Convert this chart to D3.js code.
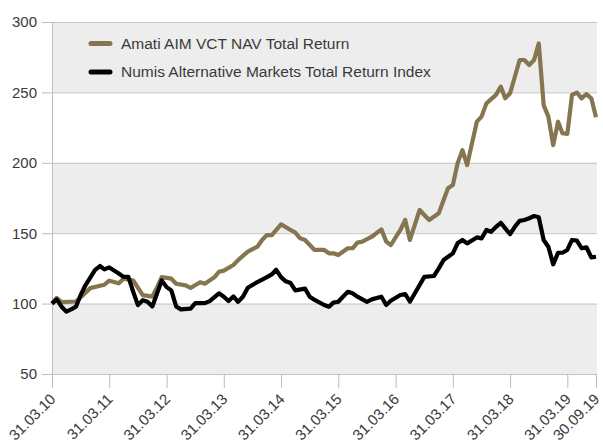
<!DOCTYPE html>
<html>
<head>
<meta charset="utf-8">
<style>
  body { margin: 0; background: #fff; }
  svg { display: block; font-family: Helvetica, Arial, "Liberation Sans", sans-serif; }
</style>
</head>
<body>
<svg></svg>
<script src="https://d3js.org/d3.v7.min.js"></script>
<script>

// months after March 2010 (month-end values)
var amatiMonths = [0,1,2,5,6,8,10,11,12,14,15,17,19,21,22,23,25,26,28,29,31,32,34,35,36,38,39,41,43,44,45,46,48,50,51,52,53,55,57,58,59,60,62,63,64,65,67,69,70,71,73,74,75,77,78,79,81,82,83,84,85,86,87,88,89,90,91,93,94,95,96,98,99,100,101,102,103,104,105,106,107,108,109,110,111,112,113,114];
var amatiValues = [100,104,101,101.5,104.5,111,112.7,113.4,116.3,114.4,117.7,116.4,106,105,111.7,118.8,117.7,114.1,112.9,111.2,115.2,114.1,118.8,122.6,123.4,127.4,130.9,136.9,140.4,145.2,148.7,148.7,156.3,152.3,150.4,146.4,145.2,138.1,138.1,135.7,135.7,134.5,139.3,139.3,143.3,144,147.5,152.7,144,141.6,152.3,159.4,145.2,166.5,162.9,159.4,164.1,173.6,181.9,184.2,199.6,209,198.4,213.8,229.2,232.8,242.2,248.2,254.1,245.8,249.4,273,273,269.5,273,284.8,241.1,232.8,212.6,229.2,221,220.5,248.2,249.9,245.8,248.7,245.8,232.3];

var numisMonths = [0,1,2,3,4,5,6,7,9,10,11,12,14,15,16,17,18,19,20,21,23,24,25,26,27,29,30,32,33,35,36,37,38,39,40,41,43,45,46,47,48,49,50,51,53,54,55,57,58,59,60,61,62,63,64,66,67,69,70,71,73,74,75,77,78,80,81,82,84,85,86,87,89,90,91,92,93,94,95,96,97,98,99,100,101,102,103,104,105,106,107,108,109,110,111,112,113,114];
var numisValues = [100,103,97.8,94.3,95.9,97.8,106.1,113.2,123.9,126.7,124.3,125.7,121.4,119,119,108.4,98.9,102.4,101.3,98,116.5,111.7,109.4,98,95.9,96.4,100.3,100.3,101.8,107.3,104.9,101.8,105.1,101.3,104.9,111.3,115.3,118.8,120.7,124,118.8,115.8,114.6,109.4,110.6,104.9,102.6,99,97.8,100.7,101.3,104.9,108.4,107.3,104.9,101.3,103,104.9,99,102,106.1,106.8,101.3,113.2,119,119.6,125,131,135.7,142.8,145.2,142.8,147,146.3,152.3,151,154.5,157.4,153.4,149.4,154.5,158.8,159.4,160.6,162.2,161.3,145.2,140.4,127.9,136.1,136.1,138.1,145.2,144.7,139.3,140,132.8,133.3];

var seriesNames = ["Amati AIM VCT NAV Total Return", "Numis Alternative Markets Total Return Index"];
var seriesColors = ["#857650", "#000000"];

var yTicks = [50, 100, 150, 200, 250, 300];
var xTickLabels = ["31.03.10","31.03.11","31.03.12","31.03.13","31.03.14","31.03.15","31.03.16","31.03.17","31.03.18","31.03.19","30.09.19"];

var width = 603, height = 448;
var margin = {left: 52, right: 6, top: 22, bottom: 74};

var parseTick = d3.timeParse("%d.%m.%y");
var monthEnd = m => d3.timeDay.offset(d3.timeMonth.offset(new Date(2010, 3, 1), m), -1);

var x = d3.scaleTime()
    .domain([parseTick("31.03.10"), parseTick("30.09.19")])
    .range([margin.left, width - margin.right - 1]);

var y = d3.scaleLinear()
    .domain([50, 300])
    .range([height - margin.bottom, margin.top]);

const svg = d3.select("svg")
    .attr("width", width)
    .attr("height", height)
    .attr("viewBox", [0, 0, width, height]);

var x0 = margin.left, x1 = width - margin.right;

// shaded bands
svg.append("g").selectAll("rect")
    .data(d3.pairs(yTicks).filter((d, i) => i % 2 == 0))
    .join("rect")
        .attr("x", x0)
        .attr("width", x1 - x0)
        .attr("y", d => y(d[1]))
        .attr("height", d => y(d[0]) - y(d[1]))
        .attr("fill", "#ededed");

// y axis
svg.append("g")
    .attr("transform", `translate(${x0},0)`)
    .call(d3.axisLeft(y).tickValues(yTicks).tickSize(10).tickPadding(5))
    .call(g => g.select(".domain").attr("stroke", "#bdbdbd"))
    .call(g => g.selectAll(".tick line").attr("stroke", "#bdbdbd"))
    .call(g => g.selectAll(".tick text").attr("font-size", 15).attr("fill", "#3a3a3a"))
    .call(g => g.selectAll(".tick").append("line")
        .attr("x2", x1 - x0)
        .attr("stroke", "#c4c4c4"));

// x axis
svg.append("g")
    .attr("transform", `translate(0,${y(50)})`)
    .call(d3.axisBottom(x).tickValues(xTickLabels.map(parseTick)).tickSize(14).tickFormat(d3.timeFormat("%d.%m.%y")))
    .call(g => g.select(".domain").remove())
    .call(g => g.selectAll(".tick line").attr("stroke", "#bdbdbd"))
    .call(g => g.selectAll(".tick text")
        .attr("font-size", 15)
        .attr("fill", "#3a3a3a")
        .attr("text-anchor", "end")
        .attr("dy", null)
        .attr("transform", "translate(4,26) rotate(-45)")
        .attr("y", 0));

var line = d3.line()
    .x(d => x(d.date))
    .y(d => y(d.value));

var series = [
    amatiMonths.map((m, i) => ({date: monthEnd(m), value: amatiValues[i]})),
    numisMonths.map((m, i) => ({date: monthEnd(m), value: numisValues[i]}))
];

svg.append("g").selectAll("path")
    .data(series)
    .join("path")
        .attr("d", line)
        .attr("fill", "none")
        .attr("stroke", (d, i) => seriesColors[i])
        .attr("stroke-width", 4.2)
        .attr("stroke-linejoin", "round");

// legend
var legend = svg.append("g").selectAll("g")
    .data(seriesNames)
    .join("g")
        .attr("transform", (d, i) => `translate(91,${43.5 + i * 28.5})`);

legend.append("line")
    .attr("x2", 19)
    .attr("stroke", (d, i) => seriesColors[i])
    .attr("stroke-width", 5)
    .attr("stroke-linecap", "round");

legend.append("text")
    .attr("x", 30)
    .attr("dy", "0.35em")
    .attr("font-size", 15.5)
    .attr("fill", "#3a3a3a")
    .text(d => d);

</script>
</body>
</html>
